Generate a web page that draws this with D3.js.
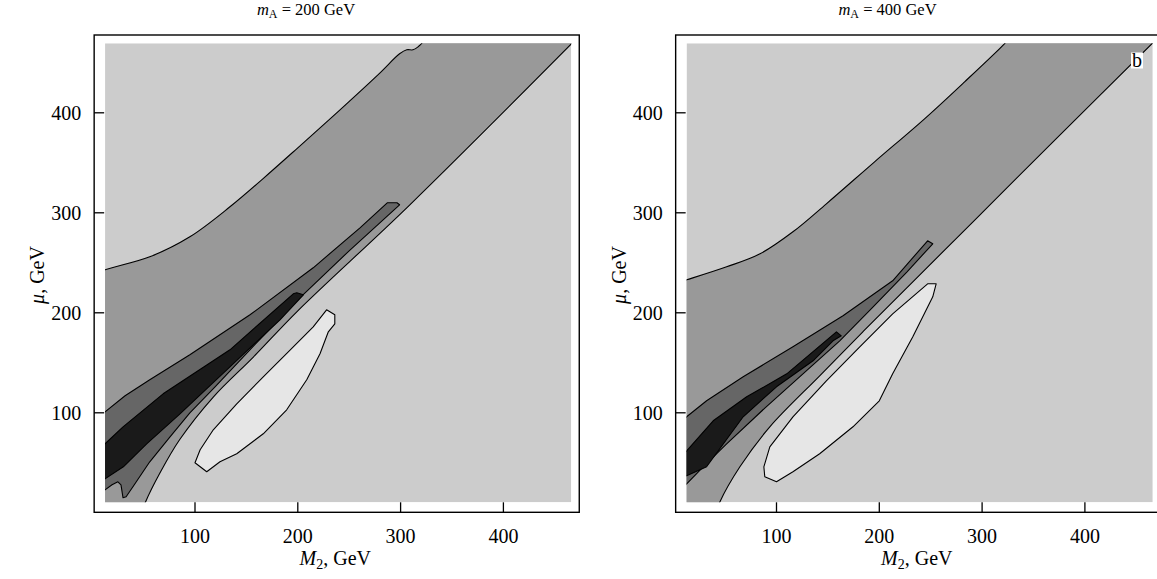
<!DOCTYPE html>
<html>
<head>
<meta charset="utf-8">
<script src="https://cdn.jsdelivr.net/npm/d3@7"></script>
<style>
  body { margin: 0; background: #fff; }
  svg { display: block; font-family: "Liberation Serif", "Times New Roman", serif; }
</style>
</head>
<body>
<svg width="1157" height="579"></svg>
<script>
// Data, in GeV
const xTicks = [100, 200, 300, 400]
const yTicks = [100, 200, 300, 400]
const massA = ['200', '400']

// m_A = 200 GeV
const bandUpper200 = [[0,238],[12.5,243],[56,256],[95,276],[134,306],[166,334],[200,365],[240,402],[280,440],[299,459],[306,463],[312,463],[317,466],[321,470],[323,475]]
const bandLower200 = [[470,473],[309,308],[200,202],[157,156],[118,116],[85,73],[66,40],[52,11],[50,5]]
const dark200 = [[0,90],[12.5,101],[32,117],[56,133],[95,158],[153.5,198],[215,245],[260.5,285],[287,310],[296.5,310],[299,308],[251,263],[202,215],[158,168],[119.5,126],[95,100],[75.7,76],[56,51],[41.6,29],[33,16],[30,15],[28,28],[25,31],[19.3,28],[12.5,23],[0,15]]
const black200 = [[0,58],[12.5,69],[30,86],[69,119],[134,163],[195.6,219],[199,220],[205.4,218],[182.7,193],[134,146],[85.4,99],[53,69],[30.3,46],[12.5,34],[0,26]]
const light200 = [[228,203],[236,198],[236,189],[229.7,181],[221.6,159],[208.7,133],[189.2,103],[166.4,79],[140.6,59],[124.3,51],[111.4,41],[100,50],[105,63],[117.8,83],[140.6,109],[166.4,136],[195.6,166],[215,186]]

// m_A = 400 GeV
const bandUpper400 = [[0,229],[12.6,233],[51.5,246],[84,259],[116,281],[148.5,309],[195.4,351],[244,394],[283,431],[321.7,469],[325,473]]
const bandLower400 = [[470,474],[369,371],[297,297],[232.6,231],[184,181],[142,137],[93.5,86],[64.4,46],[45,11],[43,5]]
const dark400 = [[0,85],[12.6,96],[32,112],[67.6,136],[116,166],[164.7,197],[213,232],[247,272],[252,269],[227,241],[194,206],[161.5,172],[129,142],[90,106],[51.5,69],[28.7,46],[12.6,29],[0,16]]
const black400 = [[0,50],[12.6,62],[38.4,92],[71,116],[110,139],[158.3,181],[163,177],[155,172],[135.6,152],[100,126],[67.6,96],[32,46],[12.6,37],[0,33]]
const light400 = [[247,229],[255.3,229],[252,216],[232.6,176],[213,139],[200,112],[174.4,86],[142,59],[116,41],[100,31],[88.6,36],[87.7,46],[93.5,66],[116,96],[148.5,132],[181,166],[213,199]]

const panels = [
    { mA: massA[0], left: 92.2, upper: bandUpper200, lower: bandLower200, dark: dark200, black: black200, light: light200, tag: null },
    { mA: massA[1], left: 673.7, upper: bandUpper400, lower: bandLower400, dark: dark400, black: black400, light: light400, tag: 'b' }
]

// Set up
const svg = d3.select('svg')
const y = d3.scaleLinear().domain([0, 478]).range([512.8, 34.8])

panels.forEach((p, i) => {
    const x = d3.scaleLinear().domain([0, 474]).range([p.left, p.left + 474 * 1.028])
    const g = svg.append('g')
    const line = d3.line().x(d => x(d[0])).y(d => y(d[1]))
    const smooth = d3.line().x(d => x(d[0])).y(d => y(d[1])).curve(d3.curveCatmullRom.alpha(0.5))

    // clip everything to the shaded area
    const clipId = 'clip' + i
    svg.append('clipPath').attr('id', clipId)
        .append('rect')
        .attr('x', x(12.5)).attr('y', y(469.5))
        .attr('width', x(466) - x(12.5)).attr('height', y(10.5) - y(469.5))

    const plot = g.append('g').attr('clip-path', `url(#${clipId})`)

    plot.append('rect')
        .attr('x', x(12.5)).attr('y', y(469.5))
        .attr('width', x(466) - x(12.5)).attr('height', y(10.5) - y(469.5))
        .attr('fill', '#cccccc')

    // band: smooth upper edge, smooth lower edge, joined outside the clip
    const bandPath = smooth(p.upper) + smooth(p.lower).replace(/^M/, 'L') +
        'L' + x(0) + ',' + y(0) + 'Z'
    const regions = [
        { d: bandPath, fill: '#999999' },
        { d: line(p.dark) + 'Z', fill: '#666666' },
        { d: line(p.black) + 'Z', fill: '#1a1a1a' },
        { d: line(p.light) + 'Z', fill: '#e6e6e6' }
    ]

    plot.selectAll('path.region')
        .data(regions)
        .join('path')
        .attr('class', 'region')
        .attr('d', d => d.d)
        .attr('fill', d => d.fill)
        .attr('stroke', '#000')
        .attr('stroke-width', 1.1)
        .attr('stroke-linejoin', 'round')

    // frame
    g.append('rect')
        .attr('x', x(1.9)).attr('y', y(477.8))
        .attr('width', x(473.8) - x(1.9)).attr('height', y(0.5) - y(477.8))
        .attr('fill', 'none')
        .attr('stroke', '#000')
        .attr('stroke-width', 1.4)

    // ticks, pointing inward
    g.selectAll('line.xt')
        .data(xTicks)
        .join('line')
        .attr('class', 'xt')
        .attr('x1', d => x(d)).attr('x2', d => x(d))
        .attr('y1', y(0.5)).attr('y2', y(0.5) - 10)
        .attr('stroke', '#000').attr('stroke-width', 1.3)

    g.selectAll('text.xl')
        .data(xTicks)
        .join('text')
        .attr('class', 'xl')
        .attr('x', d => x(d)).attr('y', 543)
        .attr('text-anchor', 'middle')
        .attr('font-size', 20)
        .text(d => d)

    g.selectAll('line.yt')
        .data(yTicks)
        .join('line')
        .attr('class', 'yt')
        .attr('x1', x(1.9)).attr('x2', x(1.9) + 10)
        .attr('y1', d => y(d)).attr('y2', d => y(d))
        .attr('stroke', '#000').attr('stroke-width', 1.3)

    g.selectAll('text.yl')
        .data(yTicks)
        .join('text')
        .attr('class', 'yl')
        .attr('x', x(1.9) - 13).attr('y', d => y(d) + 7)
        .attr('text-anchor', 'end')
        .attr('font-size', 20)
        .text(d => d)

    // title
    const title = g.append('text')
        .attr('x', x(208)).attr('y', 15)
        .attr('text-anchor', 'middle')
        .attr('font-size', 16.5)
    title.append('tspan').attr('font-style', 'italic').text('m')
    title.append('tspan').attr('font-size', 12).attr('dy', 3).text('A')
    title.append('tspan').attr('dy', -3).text(' = ' + p.mA + ' GeV')

    // axis labels
    const xlab = g.append('text')
        .attr('x', x(236.5)).attr('y', 565)
        .attr('text-anchor', 'middle')
        .attr('font-size', 20)
    xlab.append('tspan').attr('font-style', 'italic').text('M')
    xlab.append('tspan').attr('font-size', 14).attr('dy', 4).text('2')
    xlab.append('tspan').attr('dy', -4).text(', GeV')

    const ylab = g.append('text')
        .attr('transform', `translate(${x(1.9) - 50},275) rotate(-90)`)
        .attr('text-anchor', 'middle')
        .attr('font-size', 20)
    ylab.append('tspan').attr('font-style', 'italic').text('μ')
    ylab.append('tspan').text(', GeV')

    if (p.tag) {
        g.append('rect')
            .attr('x', x(450.7) - 6).attr('y', y(452.3) - 8)
            .attr('width', 12).attr('height', 16)
            .attr('fill', '#fff')
        g.append('text')
            .attr('x', x(450.7)).attr('y', y(452.3) + 6)
            .attr('text-anchor', 'middle')
            .attr('font-size', 20)
            .text(p.tag)
    }
})
</script>
</body>
</html>
